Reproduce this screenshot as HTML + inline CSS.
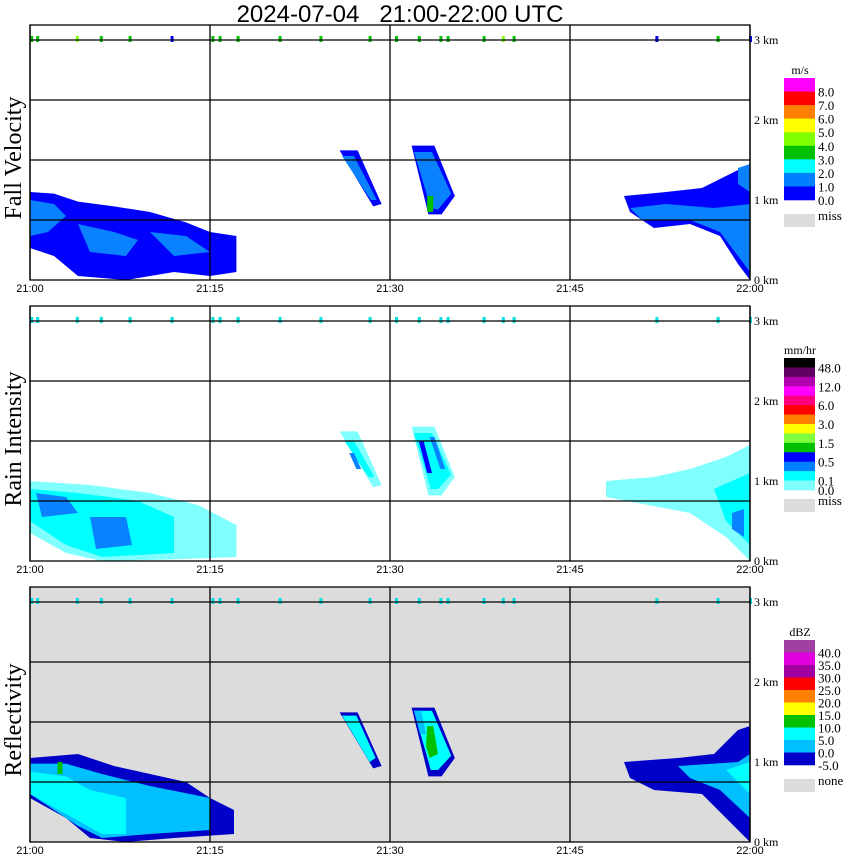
<!DOCTYPE html>
<html><head><meta charset="utf-8">
<style>
html,body{margin:0;padding:0;background:#fff;}
svg{display:block;}
text{font-family:"Liberation Serif",serif;}
</style></head>
<body>
<svg id="chart" width="850" height="868" viewBox="0 0 850 868" xmlns="http://www.w3.org/2000/svg">
<text x="400" y="22" text-anchor="middle" font-size="24" style="font-family:'Liberation Sans',sans-serif" xml:space="preserve">2024-07-04   21:00-22:00 UTC</text>
<g id="layer"></g>
</svg>
<script>
// ---- data ----
const panelTitles = ["Fall Velocity", "Rain Intensity", "Reflectivity"];
const timeTicks = [0, 15, 30, 45, 60];
const timeLabels = ["21:00", "21:15", "21:30", "21:45", "22:00"];
const kmTicks = [0, 1, 2, 3];
const kmLabels = ["0 km", "1 km", "2 km", "3 km"];
const legendTitles = ["m/s", "mm/hr", "dBZ"];
const legendColors0 = ["#ff00ff","#ff0000","#ff8000","#ffff00","#80ff00","#00c000","#00ffff","#0080ff","#0000ff"];
const legendLabels0 = ["8.0","7.0","6.0","5.0","4.0","3.0","2.0","1.0","0.0"];
const legendColors1 = ["#000000","#600060","#b000b0","#ff00ff","#ff0080","#ff0000","#ff8000","#ffff00","#80ff40","#00c000","#0000ff","#0080ff","#00ffff","#80ffff"];
const legendLabels1 = ["48.0","","12.0","","6.0","","3.0","","1.5","","0.5","","0.1","0.0"];
const legendColors2 = ["#a040a0","#e000e0","#a000a0","#ff0000","#ff8000","#ffff00","#00c000","#00ffff","#00c0ff","#0000c8"];
const legendLabels2 = ["40.0","35.0","30.0","25.0","20.0","15.0","10.0","5.0","0.0","-5.0"];
const missLabels = ["miss","miss","none"];
// echo regions: [minutes, km] vertices
const fallShapes = [
 {c:"#0000ff", p:[[0,1.1],[2,1.08],[4,0.98],[7,0.92],[10,0.85],[13,0.72],[15,0.6],[17.2,0.55],[17.2,0.1],[15,0.05],[12,0.1],[8,0.0],[4,0.05],[2,0.3],[0,0.4]]},
 {c:"#0a82ff", p:[[0,1.0],[2,0.95],[3,0.8],[1.5,0.6],[0,0.55]]},
 {c:"#0a82ff", p:[[4,0.7],[7,0.6],[9,0.5],[8,0.3],[5,0.35]]},
 {c:"#0a82ff", p:[[10,0.6],[13,0.55],[15,0.35],[12,0.3]]},
 {c:"#0000ff", p:[[49.5,1.05],[53,1.1],[56,1.15],[58,1.3],[60,1.45],[60,0.0],[59,0.2],[57.5,0.55],[55,0.7],[52,0.65],[50,0.85]]},
 {c:"#0a82ff", p:[[50,0.9],[53,0.95],[57,0.9],[60,0.95],[60,0.1],[59,0.3],[57.5,0.6],[55,0.75],[51,0.75]]},
 {c:"#0a82ff", p:[[59,1.4],[60,1.45],[60,1.1],[59,1.2]]},
 {c:"#0000ff", p:[[25.8,1.62],[27.3,1.62],[29.3,0.95],[28.6,0.92]]},
 {c:"#0a82ff", p:[[26.0,1.55],[27.0,1.55],[28.9,1.0],[28.4,1.0]]},
 {c:"#0000ff", p:[[31.8,1.68],[33.7,1.68],[35.4,1.05],[34.3,0.82],[33.2,0.82]]},
 {c:"#0a82ff", p:[[32.0,1.6],[33.5,1.6],[35.1,1.08],[34.0,0.88],[33.4,0.9]]},
 {c:"#00c000", p:[[33.1,1.05],[33.6,1.05],[33.6,0.85],[33.1,0.85]]}
];
const rainShapes = [
 {c:"#80ffff", p:[[0,1.0],[5,0.95],[10,0.85],[14,0.7],[17.2,0.45],[17.2,0.05],[12,0.02],[6,0.0],[3,0.1],[0,0.35]]},
 {c:"#00ffff", p:[[0,0.9],[4,0.85],[9,0.75],[12,0.55],[12,0.1],[6,0.05],[3,0.2],[0,0.5]]},
 {c:"#0a82ff", p:[[0.5,0.85],[3,0.8],[4,0.6],[1,0.55]]},
 {c:"#0a82ff", p:[[5,0.55],[8,0.55],[8.5,0.2],[5.5,0.15]]},
 {c:"#80ffff", p:[[48,1.0],[52,1.05],[55,1.15],[58,1.3],[60,1.45],[60,0.0],[58,0.3],[55,0.6],[48,0.8]]},
 {c:"#00ffff", p:[[57,0.9],[60,1.1],[60,0.2],[58,0.5]]},
 {c:"#0a82ff", p:[[58.5,0.6],[59.5,0.65],[59.5,0.3],[58.5,0.4]]},
 {c:"#80ffff", p:[[25.8,1.62],[27.3,1.62],[29.3,0.95],[28.6,0.92]]},
 {c:"#00ffff", p:[[26.2,1.5],[27.0,1.5],[28.7,1.05],[28.2,1.05]]},
 {c:"#0a82ff", p:[[26.6,1.35],[27.0,1.35],[27.6,1.15],[27.2,1.15]]},
 {c:"#80ffff", p:[[31.8,1.68],[33.7,1.68],[35.4,1.05],[34.3,0.82],[33.2,0.82]]},
 {c:"#00ffff", p:[[32.0,1.6],[33.5,1.6],[35.1,1.08],[34.0,0.9],[33.4,0.9]]},
 {c:"#0000ff", p:[[32.4,1.5],[32.8,1.5],[33.5,1.1],[33.1,1.1]]},
 {c:"#0a82ff", p:[[33.3,1.55],[33.7,1.55],[34.6,1.15],[34.2,1.15]]}
];
const reflShapes = [
 {c:"#0000c8", p:[[0,1.05],[4,1.1],[7,0.95],[10,0.85],[13,0.75],[15,0.55],[17,0.4],[17,0.1],[12,0.05],[8,0.0],[5,0.05],[3,0.3],[0,0.55]]},
 {c:"#00c0ff", p:[[0,0.98],[3,0.98],[6,0.85],[10,0.7],[15,0.55],[15,0.15],[10,0.1],[6,0.05],[4,0.2],[0,0.6]]},
 {c:"#00ffff", p:[[0,0.88],[3,0.82],[5,0.65],[8,0.55],[8,0.1],[6,0.1],[3,0.35],[0,0.6]]},
 {c:"#00c000", p:[[2.3,1.0],[2.7,1.0],[2.7,0.85],[2.3,0.85]]},
 {c:"#0000c8", p:[[49.5,1.0],[54,1.05],[57,1.1],[59,1.4],[60,1.45],[60,0.0],[58,0.3],[56,0.6],[52,0.65],[50,0.8]]},
 {c:"#00c0ff", p:[[54,0.95],[59,1.0],[60,1.1],[60,0.3],[57.5,0.65],[55,0.8]]},
 {c:"#00ffff", p:[[58,0.9],[60,1.0],[60,0.6]]},
 {c:"#0000c8", p:[[25.8,1.62],[27.3,1.62],[29.3,0.95],[28.6,0.92]]},
 {c:"#00ffff", p:[[26.0,1.58],[27.2,1.58],[28.8,1.05],[28.3,1.0]]},
 {c:"#0000c8", p:[[31.8,1.68],[33.7,1.68],[35.4,1.05],[34.3,0.82],[33.2,0.82]]},
 {c:"#00ffff", p:[[32.0,1.64],[33.5,1.64],[35.1,1.08],[34.0,0.9],[33.4,0.9]]},
 {c:"#00c0ff", p:[[32.0,1.64],[32.6,1.64],[33.0,1.35],[32.5,1.35]]},
 {c:"#00c000", p:[[33.1,1.45],[33.6,1.45],[34.0,1.1],[33.3,1.05],[33.0,1.2]]}
];
const topMarkTimes = [0.1,0.6,3.9,5.9,8.3,11.8,15.2,15.8,17.3,20.8,24.2,28.3,30.5,32.4,34.2,34.8,37.8,39.4,40.3,52.2,57.3,60];
const topMarkColors = ["#00c000","#00c000","#80ff00","#00c000","#00c000","#0000ff","#00c000","#00c000","#00c000","#00c000","#00c000","#00c000","#00c000","#00c000","#00c000","#00c000","#00c000","#80ff00","#00c000","#0000ff","#00c000","#0000ff"];

// ---- scales ----
const X0 = 30, X1 = 750;
const bottoms = [280, 561, 842];
function xs(m){ return X0 + m * (X1 - X0) / 60; }
function ys(panel, km){ return bottoms[panel] - km * 80; }

const NS = "http://www.w3.org/2000/svg";
const layer = document.getElementById("layer");
function mk(tag, attrs, parent){
  const e = document.createElementNS(NS, tag);
  for (const k in attrs) e.setAttribute(k, attrs[k]);
  (parent || layer).appendChild(e);
  return e;
}
const allShapes = [fallShapes, rainShapes, reflShapes];
const allLegendColors = [legendColors0, legendColors1, legendColors2];
const allLegendLabels = [legendLabels0, legendLabels1, legendLabels2];
const legendTop = [78, 358, 640];
const legendBottom = [200, 490, 765];

for (let p = 0; p < 3; p++) {
  const top = bottoms[p] - 255;
  const g = mk("g", {});
  
  
  const bg = mk("rect", {x:X0, y:top, width:X1-X0, height:255, fill: p===2 ? "#dcdcdc" : "#ffffff"}, g);
  
  
  allShapes[p].forEach(s => {
    const pts = s.p.map(v => xs(v[0]).toFixed(1) + "," + ys(p, v[1]).toFixed(1)).join(" ");
    const poly = mk("polygon", {points: pts, fill: s.c}, g);
    
    
  });
  topMarkTimes.forEach((t, i) => {
    const col = p === 0 ? topMarkColors[i] : "#00e0e0";
    const r = mk("rect", {x: xs(t)-1, y: ys(p,3)-4, width: 3, height: 6, fill: col}, g);
    
    
  });
  for (let k = 0; k < 4; k++) {
    const y = top + 15 + k * 60;
    const l = mk("line", {x1:X0, x2:X1, y1:y, y2:y, stroke:"#000", "stroke-width":1.3}, g);
    
    
  }
  timeTicks.forEach((t, i) => {
    const l = mk("line", {x1:xs(t), x2:xs(t), y1:top, y2:bottoms[p], stroke:"#000", "stroke-width":1.3}, g);
    
    
    const tx = mk("text", {x: xs(t), y: bottoms[p]+12, "font-size": 11, "text-anchor": "middle", style:"font-family:'Liberation Sans',sans-serif"}, g);
    tx.textContent = timeLabels[i];
    
    
  });
  const fr = mk("rect", {x:X0, y:top, width:X1-X0, height:255, fill:"none", stroke:"#000", "stroke-width":1.3}, g);
  
  
  kmTicks.forEach((k, i) => {
    const tx = mk("text", {x: 754, y: ys(p,k)+4, "font-size": 12}, g);
    tx.textContent = kmLabels[i];
    
    
  });
  const cy = top + 133;
  const tt = mk("text", {x: 0, y: 0, "font-size": 24, "text-anchor": "middle", transform: "translate(21," + cy + ") rotate(-90)"}, g);
  tt.textContent = panelTitles[p];
  
  
  const cols = allLegendColors[p], labs = allLegendLabels[p];
  const h = (legendBottom[p] - legendTop[p]) / cols.length;
  const lt = mk("text", {x: 800, y: legendTop[p]-4, "font-size": 12, "text-anchor": "middle"}, g);
  lt.textContent = legendTitles[p];
  
  
  cols.forEach((c, i) => {
    const r = mk("rect", {x: 784, y: legendTop[p] + i*h, width: 31, height: h+0.3, fill: c}, g);
    
    
    if (labs[i]) {
      const tx = mk("text", {x: 818, y: legendTop[p] + (i+1)*h + 5, "font-size": 13}, g);
      tx.textContent = labs[i];
      
      
    }
  });
  const my = legendBottom[p] + (p===1 ? 9 : 14);
  const mr = mk("rect", {x: 784, y: my, width: 31, height: 13, fill: "#dcdcdc"}, g);
  
  
  const mt = mk("text", {x: 818, y: my + 6, "font-size": 13}, g);
  mt.textContent = missLabels[p];
  
  
}
</script>
</body></html>
